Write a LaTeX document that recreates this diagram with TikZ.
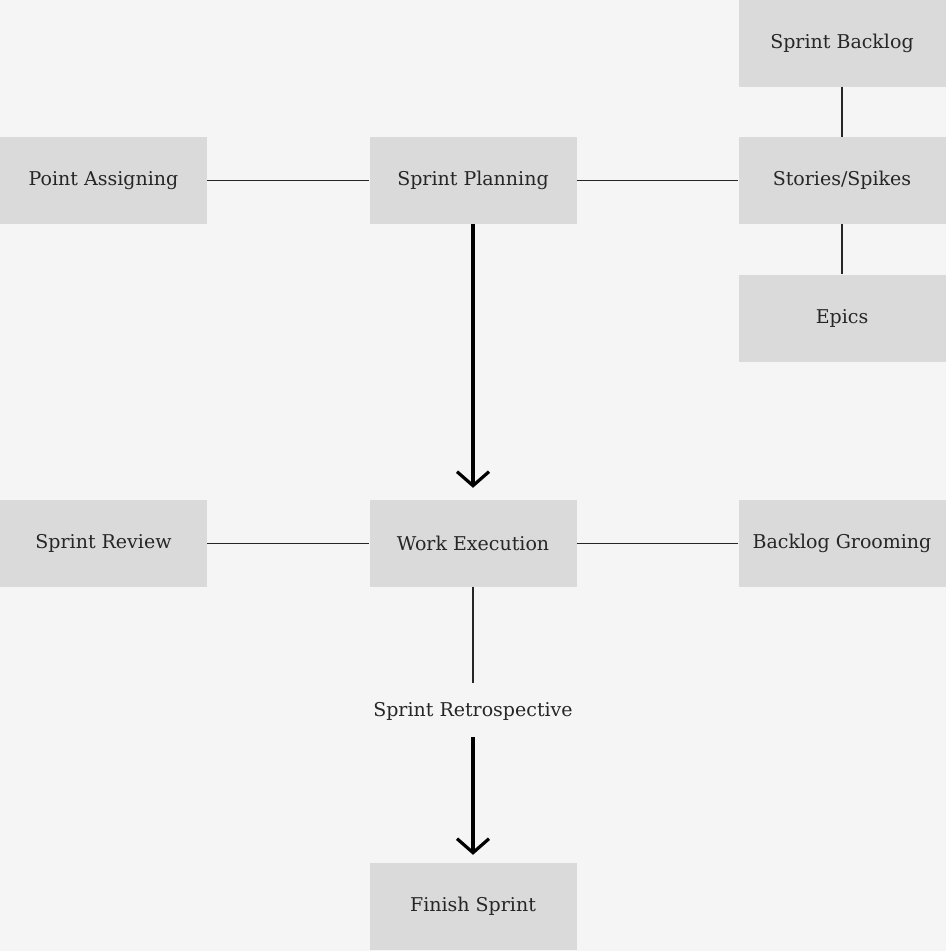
\documentclass[tikz,border=0pt]{standalone}
\usepackage{fontspec}
\setmainfont{DejaVu Serif}
\usetikzlibrary{arrows.meta}
\definecolor{pagebg}{HTML}{F5F5F5}
\definecolor{boxfill}{HTML}{DADADA}
\definecolor{inkc}{HTML}{262626}
\begin{document}
\begin{tikzpicture}[x=1pt,y=-1pt,
  box/.style={fill=boxfill, draw=none, minimum width=207pt, minimum height=87pt,
    inner sep=0pt, text=inkc, font=\fontsize{19}{22}\selectfont},
  label/.style={text=inkc, font=\fontsize{19}{22}\selectfont, inner sep=2pt},
  thin/.style={draw=inkc, line width=1.2pt},
  flow/.style={draw=black, line width=3.2pt,
    -{Straight Barb[length=14pt, width=32pt, line width=3.2pt]}}]
  \fill[pagebg] (0,0) rectangle (946,951);
  \useasboundingbox (0,0) rectangle (946,951);

  % planning row
  \node[box] (assign)   at (103.5,180.5) {Point Assigning};
  \node[box] (planning) at (473,180.5)   {Sprint Planning};
  \node[box] (stories)  at (842,180.5)   {Stories/Spikes};
  \node[box] (backlog)  at (842,43)      {Sprint Backlog};
  \node[box] (epics)    at (842,318)     {Epics};

  % execution row
  \node[box] (review)   at (103.5,543.5) {Sprint Review};
  \node[box] (work)     at (473,543.5)   {Work Execution};
  \node[box] (grooming) at (842,543.5)   {Backlog Grooming};

  % closing
  \node[label] (retro)  at (473,711)     {Sprint Retrospective};
  \node[box] (finish)   at (473,906.5)   {Finish Sprint};

  % links
  \draw[thin] (assign) -- (planning);
  \draw[thin] (planning) -- (stories);
  \draw[thin] (backlog) -- (stories);
  \draw[thin] (stories) -- (epics);
  \draw[thin] (review) -- (work);
  \draw[thin] (work) -- (grooming);
  \draw[thin] (work.south) -- ++(0,96);

  % flow arrows
  \coordinate (retroTop) at (473,737);
  \draw[flow] (planning.south) -- ([yshift=12pt]work.north);
  \draw[flow] (retroTop) -- ([yshift=8pt]finish.north);
\end{tikzpicture}
\end{document}
